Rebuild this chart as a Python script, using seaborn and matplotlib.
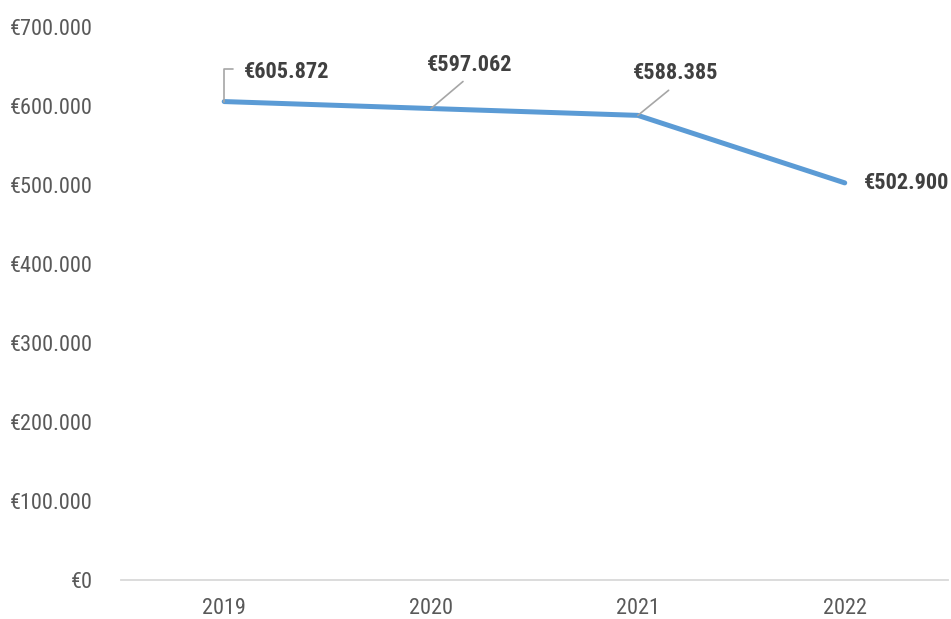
import pandas as pd
import seaborn as sns
import matplotlib
matplotlib.use("Agg")
import matplotlib.pyplot as plt
from matplotlib import font_manager

# --- data ---
years = ["2019", "2020", "2021", "2022"]
values = [605872, 597062, 588385, 502900]
y_ticks = [0, 100000, 200000, 300000, 400000, 500000, 600000, 700000]

# label offsets (pixels) relative to each point
label_offsets = [(62, 30), (39, 44), (38, 42), (62, 0)]


def euro(v):
    return "€" + f"{int(v):,}".replace(",", ".")


# the original uses a narrow Arial-like face; take the best one available
installed = {f.name for f in font_manager.fontManager.ttflist}
font_size = 14
family = "Liberation Sans"
for name, size in [("Liberation Sans Narrow", 17), ("Arial Narrow", 17),
                   ("Roboto Condensed", 16), ("Liberation Sans", 14)]:
    if name in installed:
        family, font_size = name, size
        break

df = pd.DataFrame({"year": years, "value": values})

sns.set_style("white")
plt.rcParams["font.family"] = [family, "DejaVu Sans"]

fig = plt.figure(figsize=(9.51, 6.19), dpi=100)
ax = fig.add_axes([0.127, 0.063, 0.870, 0.893])

sns.lineplot(data=df, x="year", y="value", color="#5B9BD5", linewidth=3.6,
             solid_capstyle="round", solid_joinstyle="round", ax=ax, sort=False)

ax.set_xlim(-0.5, len(years) - 0.5)
ax.set_ylim(0, 700000)
ax.set_yticks(y_ticks)
ax.set_yticklabels([euro(t) for t in y_ticks])
ax.set_xlabel("")
ax.set_ylabel("")

ax.tick_params(axis="y", length=0, pad=20, labelsize=font_size, labelcolor="#595959")
ax.tick_params(axis="x", length=0, pad=13, labelsize=font_size, labelcolor="#595959")

for side in ["top", "right", "left"]:
    ax.spines[side].set_visible(False)
ax.spines["bottom"].set_color("#D9D9D9")
ax.spines["bottom"].set_linewidth(1.3)

lead = "#A6A6A6"
for i, (yr, v) in enumerate(zip(years, values)):
    dx, dy = label_offsets[i]
    if i == 0:
        arrow = dict(arrowstyle="-", color=lead, lw=1.2, shrinkA=5, shrinkB=0,
                     relpos=(0, 0.6), connectionstyle="angle,angleA=0,angleB=90,rad=0")
    elif i in (1, 2):
        arrow = dict(arrowstyle="-", color=lead, lw=1.2, shrinkA=3, shrinkB=0,
                     relpos=(0.5, 0))
    else:
        arrow = None
    ax.annotate(euro(v), xy=(i, v), xytext=(dx, dy), textcoords="offset pixels",
                ha="center", va="center", fontsize=font_size, fontweight="bold",
                color="#404040", arrowprops=arrow)

fig.savefig("out.png", dpi=100)
